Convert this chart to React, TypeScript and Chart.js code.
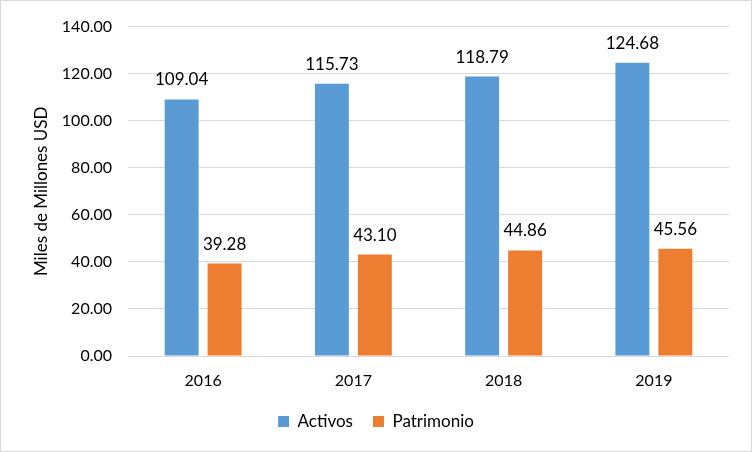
import React, { useEffect, useRef } from "react";
import { Chart, registerables } from "chart.js";

Chart.register(...registerables);

const categories = ["2016", "2017", "2018", "2019"];
const activos = [109.04, 115.73, 118.79, 124.68];
const patrimonio = [39.28, 43.1, 44.86, 45.56];
const seriesNames = ["Activos", "Patrimonio"];
const colors = ["#5B9BD5", "#ED7D31"];

const FONT = "Lato, 'Open Sans', sans-serif";

const dataLabels = {
  id: "dataLabels",
  afterDatasetsDraw(chart: any) {
    const ctx = chart.ctx;
    ctx.save();
    ctx.font = `17px ${FONT}`;
    ctx.fillStyle = "#000";
    ctx.textAlign = "center";
    ctx.textBaseline = "alphabetic";
    chart.data.datasets.forEach((ds: any, i: number) => {
      const meta = chart.getDatasetMeta(i);
      meta.data.forEach((bar: any, j: number) => {
        ctx.fillText(Number(ds.data[j]).toFixed(2), bar.x, bar.y - 14);
      });
    });
    ctx.restore();
  },
};

export default function App() {
  const ref = useRef<HTMLCanvasElement>(null);
  useEffect(() => {
    document.body.style.margin = "0";
    const chart = new Chart(ref.current!, {
      type: "bar",
      data: {
        labels: categories,
        datasets: [
          { label: seriesNames[0], data: activos, backgroundColor: colors[0], yAxisID: "y" },
          { label: seriesNames[1], data: patrimonio, backgroundColor: colors[1], yAxisID: "y" },
        ],
      },
      options: {
        responsive: false,
        animation: false,
        devicePixelRatio: 1,
        layout: { padding: { top: 19, right: 0, bottom: 11, left: 0 } },
        datasets: { bar: { categoryPercentage: 0.572, barPercentage: 0.79 } },
        plugins: {
          tooltip: { enabled: false },
          legend: {
            position: "bottom",
            labels: {
              font: { family: FONT, size: 17 },
              color: "#000",
              boxWidth: 11,
              boxHeight: 11,
              padding: 20,
            },
          },
        },
        scales: {
          x: {
            grid: { display: false, drawTicks: false },
            border: { display: false },
            ticks: { font: { family: FONT, size: 16 }, color: "#000", padding: 15 },
            afterFit: (s: any) => { s.height = 37; },
          },
          y: {
            min: 0,
            max: 140,
            ticks: {
              stepSize: 20,
              font: { family: FONT, size: 16 },
              color: "#000",
              padding: 16,
              callback: (v: any) => Number(v).toFixed(2),
            },
            grid: { color: "#D9D9D9", drawTicks: false },
            border: { display: false },
            title: {
              display: true,
              text: "Miles de Millones USD",
              font: { family: FONT, size: 17 },
              color: "#000",
              padding: { top: 30, bottom: 0 },
            },
            afterFit: (s: any) => { s.width = 127; },
          },
          yRight: {
            type: "linear",
            position: "right",
            display: true,
            min: 0,
            max: 140,
            grid: { display: false, drawTicks: false },
            border: { display: false },
            ticks: { display: false },
            afterFit: (s: any) => { s.width = 22; },
          },
        },
      },
      plugins: [dataLabels],
    });
    return () => chart.destroy();
  }, []);
  return (
    <div style={{ width: 752, height: 452, border: "1px solid #D9D9D9", boxSizing: "border-box" }}>
      <canvas ref={ref} width={750} height={450} style={{ display: "block" }} />
    </div>
  );
}
